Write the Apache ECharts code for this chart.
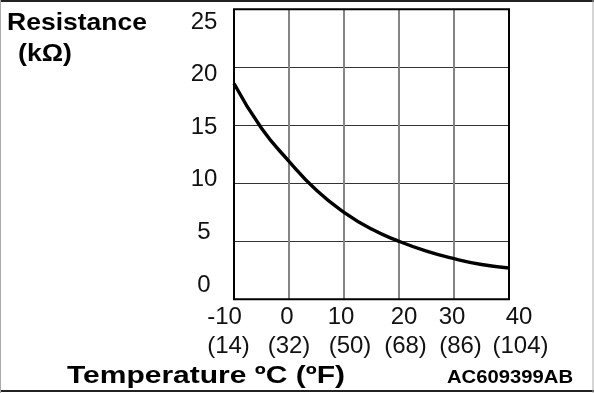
<!DOCTYPE html>
<html><head><meta charset="utf-8">
<script src="https://cdn.jsdelivr.net/npm/echarts@6/dist/echarts.min.js"></script>
<style>html,body{margin:0;padding:0;background:#fff}#c{width:594px;height:393px}</style>
</head><body><div id="c"></div>
<script>
// ---- data ----
const tempC = [-10, -5, 0, 5, 10, 15, 20, 25, 30, 35, 40];
const resistance = [18.6, 14.75, 11.9, 9.4, 7.5, 6.05, 5.0, 4.15, 3.5, 3.0, 2.7];
const xTicksC = ['-10', '0', '10', '20', '30', '40'];
const xTicksF = ['(14)', '(32)', '(50)', '(68)', '(86)', '(104)'];
const yTicks = [0, 5, 10, 15, 20, 25];
const yTitle = ['Resistance', '(k\u03A9)'];
const xTitle = 'Temperature \u00BAC (\u00BAF)';
const figId = 'AC609399AB';

// ---- styling (label nudges, px) ----
const nudgeC = [-9.5, -2, -3, 5, -2, 10];
const nudgeF = [-5.5, 0, 6, 6.5, 6.5, 11.5];
const FONT = '"Liberation Sans", Arial, sans-serif';
const TICK_SIZE = 24;

function richFor(nudges) {
  const r = {};
  nudges.forEach((d, i) => {
    r['t' + i] = {
      fontSize: TICK_SIZE, fontFamily: FONT, color: '#111',
      padding: d >= 0 ? [0, 0, 0, 2 * d] : [0, -2 * d, 0, 0]
    };
  });
  return r;
}
function fmt(labels) {
  return function (v) {
    const i = Math.round((v - tempC[0]) / 10);
    return '{t' + i + '|' + labels[i] + '}';
  };
}
const cv = document.createElement('canvas').getContext('2d');
function fitText(text, font, x0, x1, y) {
  cv.font = font;
  const w = cv.measureText(text).width;
  return {
    type: 'text', x: x0, y: y, scaleX: (x1 - x0) / w,
    style: { text: text, x: 0, y: 0, font: font, fill: '#000', textVerticalAlign: 'middle' }
  };
}

const chart = echarts.init(document.getElementById('c'), null, { renderer: 'canvas' });
chart.setOption({
  backgroundColor: '#fff',
  animation: false,
  grid: { left: 234, right: 85, top: 9.3, bottom: 93.7, show: false },
  xAxis: [
    {
      type: 'value', min: -10, max: 40, interval: 10,
      axisLine: { show: false }, axisTick: { show: false },
      splitLine: { show: true, lineStyle: { color: '#858585', width: 2 } },
      axisLabel: { margin: 6, formatter: fmt(xTicksC), rich: richFor(nudgeC), fontSize: TICK_SIZE, fontFamily: FONT }
    },
    {
      type: 'value', min: -10, max: 40, interval: 10, position: 'bottom',
      axisLine: { show: false }, axisTick: { show: false }, splitLine: { show: false },
      axisLabel: { margin: 35, formatter: fmt(xTicksF), rich: richFor(nudgeF), fontSize: TICK_SIZE, fontFamily: FONT }
    }
  ],
  yAxis: [
    {
      type: 'value', min: 0, max: 25, interval: 5,
      axisLine: { show: false }, axisTick: { show: false },
      splitLine: { show: true, lineStyle: { color: '#333', width: 1.2 } },
      axisLabel: { show: false }
    },
    {
      type: 'value', min: -1.36, max: 26.21, position: 'left',
      axisLine: { show: false }, axisTick: { show: false }, splitLine: { show: false },
      axisLabel: {
        customValues: yTicks, margin: 30, align: 'center',
        fontSize: TICK_SIZE, fontFamily: FONT, color: '#111'
      }
    }
  ],
  series: [
    {
      type: 'line', xAxisIndex: 0, yAxisIndex: 0, smooth: 0.5, symbol: 'none',
      lineStyle: { color: '#000', width: 3.4 },
      data: tempC.map((t, i) => [t, resistance[i]]),
      z: 5
    }
  ],
  graphic: [
    // plot frame
    { type: 'rect', shape: { x: 234, y: 9.3, width: 275, height: 290 },
      style: { fill: 'none', stroke: '#000', lineWidth: 2 }, z: 10 },
    // outer border
    { type: 'line', shape: { x1: 0, y1: 1, x2: 594, y2: 1 }, style: { stroke: '#222', lineWidth: 2 } },
    { type: 'line', shape: { x1: 0, y1: 391, x2: 594, y2: 391 }, style: { stroke: '#222', lineWidth: 2 } },
    { type: 'line', shape: { x1: 0.5, y1: 0, x2: 0.5, y2: 393 }, style: { stroke: '#aaa', lineWidth: 1 } },
    { type: 'line', shape: { x1: 593, y1: 0, x2: 593, y2: 393 }, style: { stroke: '#aaa', lineWidth: 1 } },
    // texts
    fitText(yTitle[0], 'bold 24px ' + FONT, 7, 147, 23),
    fitText(yTitle[1], 'bold 24px ' + FONT, 18, 72, 54),
    fitText(xTitle, 'bold 24px ' + FONT, 67, 345, 376),
    fitText(figId, 'bold 19px ' + FONT, 447, 573, 378)
  ]
});
</script>
</body></html>
